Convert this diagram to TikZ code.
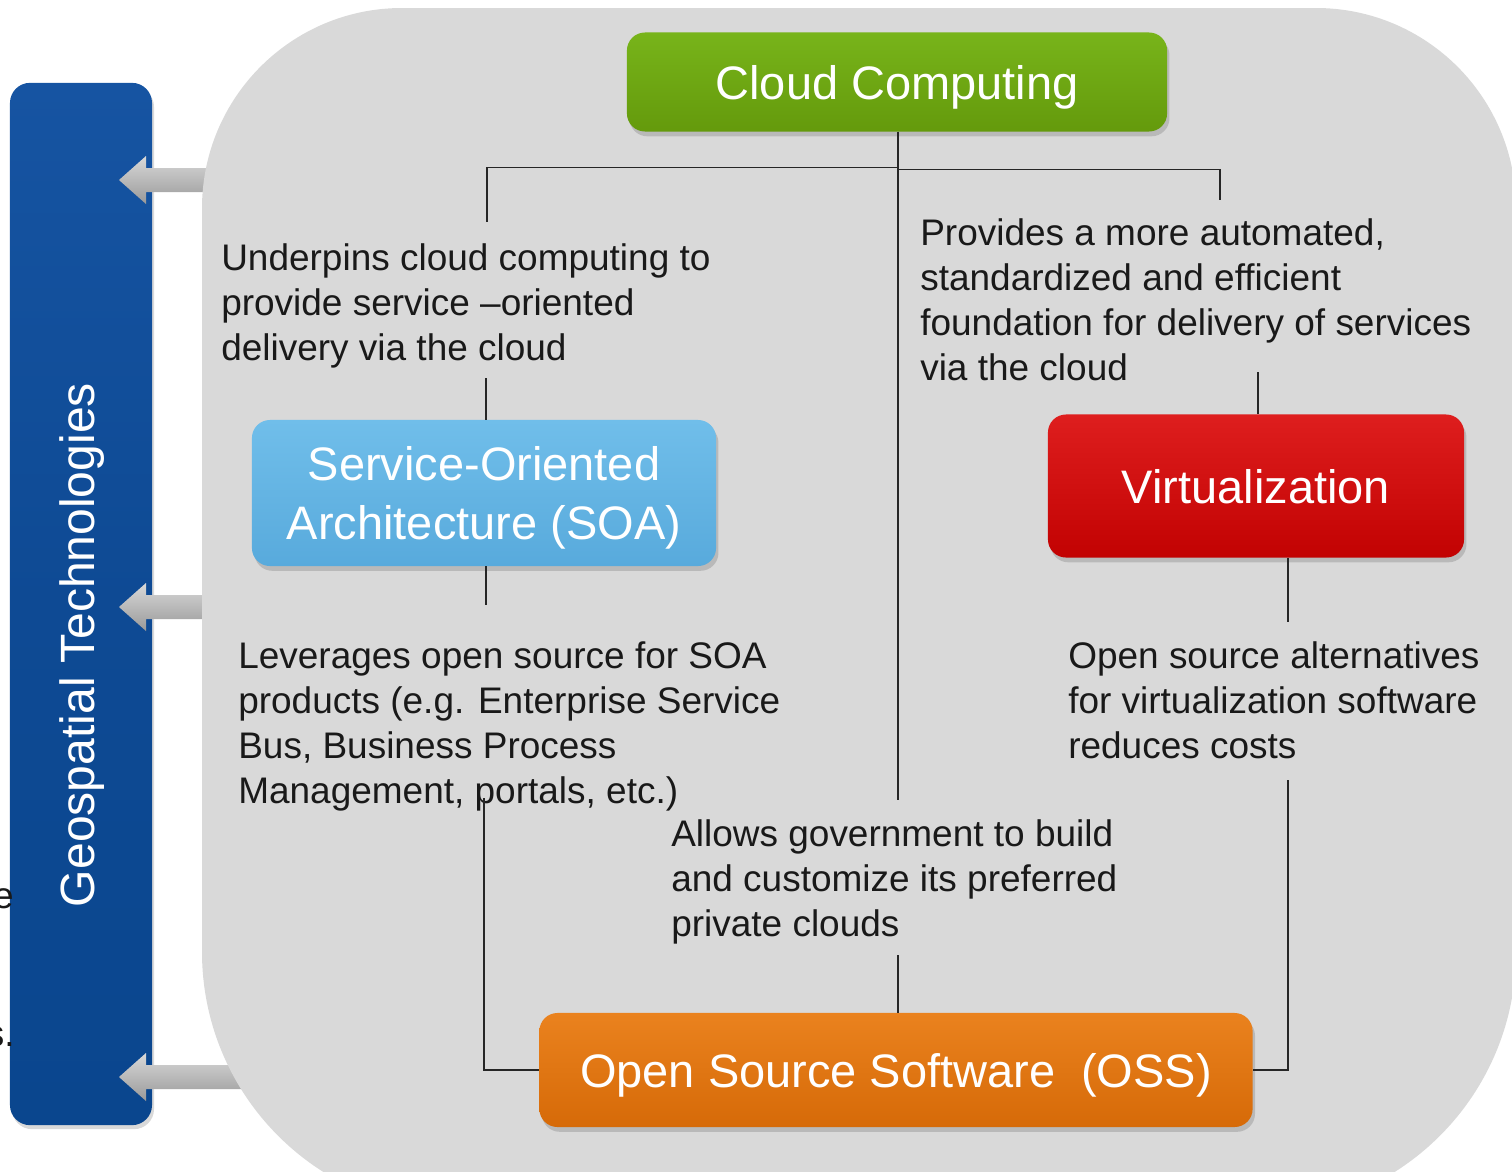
\documentclass[tikz,border=0pt]{standalone}
\usepackage{fontspec}
\setmainfont{Liberation Sans}
\usetikzlibrary{positioning,shadows}
\definecolor{panelgray}{RGB}{217,217,217}
\definecolor{barlight}{RGB}{22,84,162}
\definecolor{barblue}{RGB}{14,74,148}
\definecolor{bardark}{RGB}{10,70,142}
\definecolor{cclight}{RGB}{120,180,26}
\definecolor{ccdark}{RGB}{100,154,12}
\definecolor{soalight}{RGB}{112,190,234}
\definecolor{soadark}{RGB}{88,170,220}
\definecolor{virtlight}{RGB}{222,30,30}
\definecolor{virtdark}{RGB}{194,2,2}
\definecolor{osslight}{RGB}{234,130,30}
\definecolor{ossdark}{RGB}{214,106,8}
\tikzset{
	box/.style={
		rectangle,
		rounded corners=0.45cm,
		text=white,
		align=center,
		text depth=0pt,
		font=\fontsize{33.4}{41.3}\selectfont,
		drop shadow={opacity=0.35,shadow xshift=0.06cm,shadow yshift=-0.12cm}
	},
	note/.style={
		anchor=north west,
		inner sep=0pt,
		align=left,
		text=black!90,
		font=\fontsize{26.3}{32}\selectfont
	},
	link/.style={
		draw=black!85,
		line width=0.9pt
	},
	grayarrow/.style={
		top color=gray!30,
		bottom color=gray!80,
		middle color=gray!55
	},
}

\begin{document}
\begin{tikzpicture}[x=0.025cm,y=-0.025cm]
	\useasboundingbox (0,0) rectangle (1512,1171);
	\clip (0,0) rectangle (1512,1171);

	% left bar
	\node[rectangle,rounded corners=0.5cm,minimum width=3.55cm,minimum height=26.05cm,
		top color=barlight,bottom color=bardark,middle color=barblue,
		drop shadow={opacity=0.3,shadow xshift=0.05cm,shadow yshift=-0.1cm}] (geo) at (81,604) {};
	\node[rotate=90,text=white,font=\fontsize{34.2}{40}\selectfont] (geolabel) at (82,645) {Geospatial Technologies};
	\node[note,anchor=base east] (cut1) at (14,908) {e};
	\node[note,anchor=base east] (cut2) at (15,1046) {s.};

	\foreach \y in {180,607,1077}
		\path[grayarrow] (280,\y-12) -- (146,\y-12) -- (146,\y-24) -- (119,\y)
			-- (146,\y+24) -- (146,\y+12) -- (280,\y+12) -- cycle;

	% panel
	\fill[panelgray,rounded corners=5cm] (202,8) rectangle (1516,1000);
	\fill[panelgray,rounded corners=6.5cm] (202,300) rectangle (1516,1212);

	\node[box,minimum width=13.5cm,minimum height=2.475cm,top color=cclight,bottom color=ccdark] (cc) at (897,82) {Cloud Computing};
	\node[box,minimum width=11.6cm,minimum height=3.65cm,top color=soalight,bottom color=soadark] (soa) at (484,493) {Service-Oriented\\Architecture (SOA)};
	\node[box,minimum width=10.4cm,minimum height=3.575cm,top color=virtlight,bottom color=virtdark] (virt) at (1256,486) {Virtualization};
	\node[box,minimum width=17.825cm,minimum height=2.85cm,top color=osslight,bottom color=ossdark] (oss) at (896,1070) {Open Source Software~ (OSS)};

	\node[note] (t1) at (221,243) {Underpins cloud computing to\\provide service --oriented\\delivery via the cloud};
	\node[note] (t2) at (920,218) {Provides a more automated,\\standardized and efficient\\foundation for delivery of services\\via the cloud};
	\node[note] (t3) at (238,641) {Leverages open source for SOA\\products (e.g. Enterprise Service\\Bus, Business Process\\Management, portals, etc.)};
	\node[note] (t4) at (1068,641) {Open source alternatives\\for virtualization software\\reduces costs};
	\node[note] (t5) at (671,819) {Allows government to build\\and customize its preferred\\private clouds};

	\coordinate (h1) at (487,222);
	\coordinate (h2) at (1220,200);
	\coordinate (h5) at (898,800);
	\coordinate (a1) at (486,378);
	\coordinate (a2) at (486,605);
	\coordinate (b1) at (1258,372);
	\coordinate (b2) at (1288,622);
	\coordinate (c1) at (484,798);
	\coordinate (c2) at (1288,780);
	\coordinate (c3) at (898,955);

	\draw[link] (cc.south -| h5) -- ++(0,36) -| (h1);
	\draw[link] (cc.south -| h5) -- ++(0,38) -| (h2);
	\draw[link] (cc.south -| h5) -- (h5);
	\draw[link] (a1) -- (a1 |- soa.north);
	\draw[link] (soa.south -| a2) -- (a2);
	\draw[link] (b1) -- (b1 |- virt.north);
	\draw[link] (virt.south -| b2) -- (b2);
	\draw[link] (c1) |- (oss.west);
	\draw[link] (c2) |- (oss.east);
	\draw[link] (c3) -- (c3 |- oss.north);
\end{tikzpicture}
\end{document}
